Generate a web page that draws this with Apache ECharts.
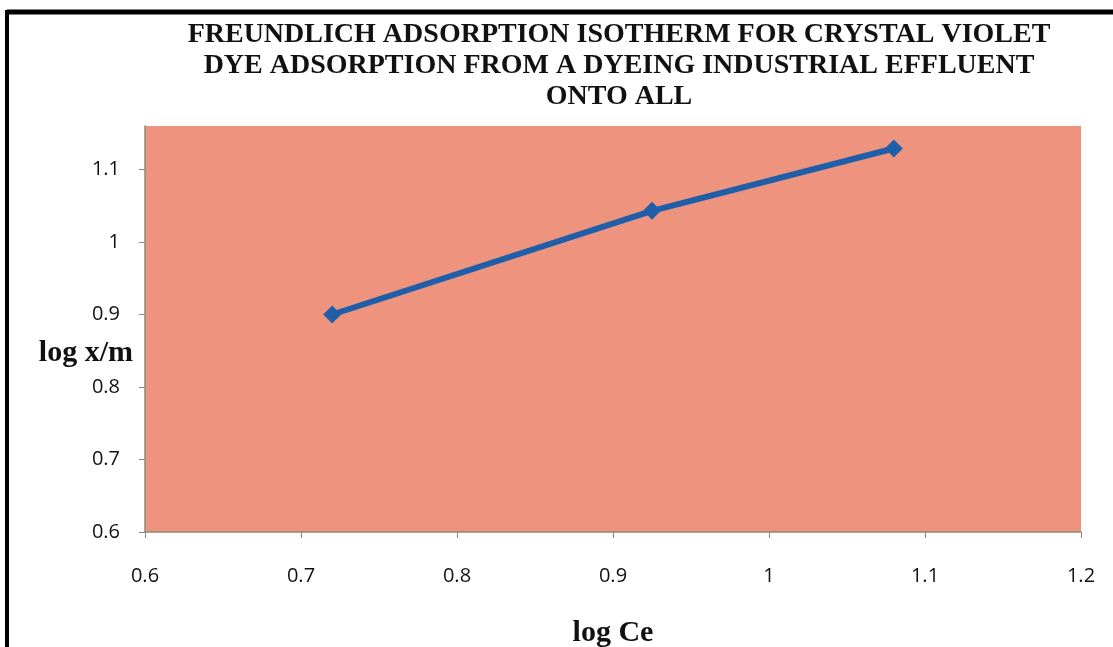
<!DOCTYPE html>
<html>
<head>
<meta charset="utf-8">
<script src="https://cdn.jsdelivr.net/npm/echarts@6/dist/echarts.min.js"></script>
<style>
html,body{margin:0;padding:0;background:#fff;}
#chart{width:1113px;height:647px;}
</style>
</head>
<body>
<div id="chart"></div>
<script>
const titleText = "FREUNDLICH ADSORPTION ISOTHERM FOR CRYSTAL VIOLET\nDYE ADSORPTION FROM A DYEING INDUSTRIAL EFFLUENT\nONTO ALL";
const xName = "log Ce";
const yName = "log x/m";
const logCe = [0.72, 0.925, 1.08];
const logXm = [0.90, 1.043, 1.129];

const chart = echarts.init(document.getElementById('chart'), null, {renderer: 'canvas'});
const points = logCe.map((x, i) => [x, logXm[i]]);

chart.setOption({
  backgroundColor: '#ffffff',
  animation: false,
  title: {
    text: titleText,
    left: 614,
    top: 14,
    textAlign: 'center',
    textStyle: {
      fontFamily: 'Liberation Serif',
      fontWeight: 'bold',
      fontSize: 28,
      lineHeight: 31,
      color: '#111'
    }
  },
  grid: {
    left: 145,
    right: 32,
    top: 126,
    bottom: 115,
    outerBoundsMode: 'none',
    containLabel: false,
    show: true,
    backgroundColor: '#EE937E',
    borderWidth: 0
  },
  xAxis: {
    type: 'value',
    min: 0.6,
    max: 1.2,
    interval: 0.1,
    name: xName,
    nameLocation: 'middle',
    nameGap: 86,
    nameMoveOverlap: false,
    nameTextStyle: {
      fontFamily: 'Liberation Serif',
      fontWeight: 'bold',
      fontSize: 30,
      color: '#111'
    },
    axisLine: {show: true, lineStyle: {color: '#8a8a7a', width: 1.5}},
    axisTick: {show: true, inside: false, length: 6, lineStyle: {color: '#8a8a7a'}},
    splitLine: {show: false},
    axisLabel: {
      margin: 34,
      fontFamily: 'Open Sans',
      fontSize: 20,
      color: '#111',
      formatter: v => String(Math.round(v * 10) / 10)
    }
  },
  yAxis: {
    type: 'value',
    min: 0.6,
    max: 1.16,
    interval: 0.1,
    name: yName,
    nameLocation: 'middle',
    nameRotate: 0,
    nameGap: 12,
    nameMoveOverlap: false,
    nameTextStyle: {
      fontFamily: 'Liberation Serif',
      fontWeight: 'bold',
      fontSize: 30,
      color: '#111',
      verticalAlign: 'top',
      lineHeight: 48
    },
    axisLine: {show: true, lineStyle: {color: '#8a8a7a', width: 1.5}},
    axisTick: {show: true, inside: false, length: 6, lineStyle: {color: '#8a8a7a'}},
    splitLine: {show: false},
    axisLabel: {
      margin: 25,
      showMaxLabel: false,
      fontFamily: 'Open Sans',
      fontSize: 20,
      color: '#111',
      formatter: v => String(Math.round(v * 10) / 10)
    }
  },
  series: [{
    type: 'line',
    data: points,
    symbol: 'diamond',
    symbolSize: 18,
    lineStyle: {color: '#1F5FAA', width: 6},
    itemStyle: {color: '#1F5FAA'}
  }],
  graphic: [
    {type: 'line', shape: {x1: 7, y1: 12, x2: 1113, y2: 12}, style: {stroke: '#000', lineWidth: 5}},
    {type: 'line', shape: {x1: 7, y1: 10, x2: 7, y2: 647}, style: {stroke: '#000', lineWidth: 4}}
  ]
});
</script>
</body>
</html>
